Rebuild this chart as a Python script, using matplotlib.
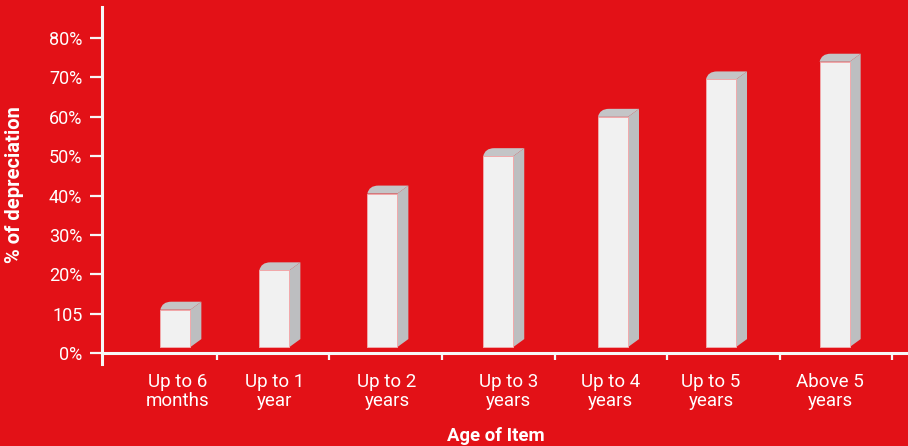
import matplotlib
matplotlib.use("Agg")
import matplotlib.pyplot as plt
from matplotlib.patches import Polygon, PathPatch
from matplotlib.path import Path
import matplotlib.transforms as mtransforms

plt.rcParams['font.family'] = ['Roboto', 'DejaVu Sans']

# data
categories = ["Up to 6\nmonths", "Up to 1\nyear", "Up to 2\nyears", "Up to 3\nyears",
              "Up to 4\nyears", "Up to 5\nyears", "Above 5\nyears"]
values = [11, 21, 40.5, 50, 60, 69.5, 74]
ytick_vals = [0, 10, 20, 30, 40, 50, 60, 70, 80]
ytick_labels = ["0%", "105", "20%", "30%", "40%", "50%", "60%", "70%", "80%"]

# layout (small nudges the original has)
bar_shift = [0.13, 0.01, -0.03, 0.0, 0.02, -0.02, -0.01]
label_shift = [0.15, 0.01, 0.01, 0.09, 0.0, -0.11, -0.05]

RED = "#e31117"
WHITE = "#f7f7f7"
FRONT = "#f1f1f1"
SIDE = "#bdbec0"
TOP = "#c4c5c7"

W, H = 908, 446
fig = plt.figure(figsize=(W / 100, H / 100), dpi=100, facecolor=RED)
ax = fig.add_axes([102 / W, 93 / H, 806 / W, 346 / H])
ax.set_facecolor(RED)

px_x = 112.5      # pixels per category
px_y = 3.9375     # pixels per percent
ax.set_xlim(-0.522, 6.642)
ax.set_ylim(0, 87.9)

bw = 30 / px_x
dx = 11 / px_x
dy = 8 / px_y
base = 1.5

for i, v in enumerate(values):
    xl = i + bar_shift[i] - bw / 2
    xr = xl + bw
    # side face
    ax.add_patch(Polygon([(xr, base), (xr + dx, base + dy), (xr + dx, v + dy), (xr, v)],
                         closed=True, facecolor=SIDE, edgecolor="none", zorder=2))
    # top face with rounded back-left corner
    verts = [(xl, v), (xl + 0.15 * dx, v + dy), (xl + dx, v + dy),
             (xr + dx, v + dy), (xr, v), (xl, v)]
    codes = [Path.MOVETO, Path.CURVE3, Path.CURVE3, Path.LINETO, Path.LINETO, Path.CLOSEPOLY]
    ax.add_patch(PathPatch(Path(verts, codes), facecolor=TOP, edgecolor="none", zorder=2))
    # front face
    ax.add_patch(Polygon([(xl, base), (xr, base), (xr, v), (xl, v)], closed=True,
                         facecolor=FRONT, edgecolor="#f2a9ab", linewidth=0.7, zorder=3))

for s in ["top", "right"]:
    ax.spines[s].set_visible(False)
ax.spines["left"].set_color(WHITE)
ax.spines["bottom"].set_color(WHITE)
ax.spines["left"].set_linewidth(2.2)
ax.spines["bottom"].set_linewidth(2.2)
ax.spines["left"].set_bounds(-2.8, 87.9)

ax.set_yticks(ytick_vals)
ax.set_yticklabels(ytick_labels)
ax.tick_params(axis="y", colors=WHITE, length=8.6, width=1.6, pad=5.5, labelsize=13)
for t in ax.get_yticklabels():
    t.set_color("white")

ax.set_xticks([k + 0.5 for k in range(len(categories))])
ax.set_xticklabels([])
ax.tick_params(axis="x", colors=WHITE, length=5, width=1.6)

trans = mtransforms.blended_transform_factory(ax.transData, fig.transFigure)
for i, c in enumerate(categories):
    lines = c.split("\n")
    ax.text(i + label_shift[i], 1 - 382 / H, lines[0], transform=trans, ha="center",
            va="center", color="white", fontsize=13.5)
    ax.text(i + label_shift[i], 1 - 401 / H, lines[1], transform=trans, ha="center",
            va="center", color="white", fontsize=13.5)

fig.text(15 / W, 1 - 185 / H, "% of depreciation", rotation=90, ha="center", va="center",
         color="white", fontsize=14.5, fontweight="bold")
fig.text(496 / W, 1 - 436 / H, "Age of Item", ha="center", va="center",
         color="white", fontsize=13.3, fontweight="bold")

fig.savefig("out.png", dpi=100, facecolor=RED)
